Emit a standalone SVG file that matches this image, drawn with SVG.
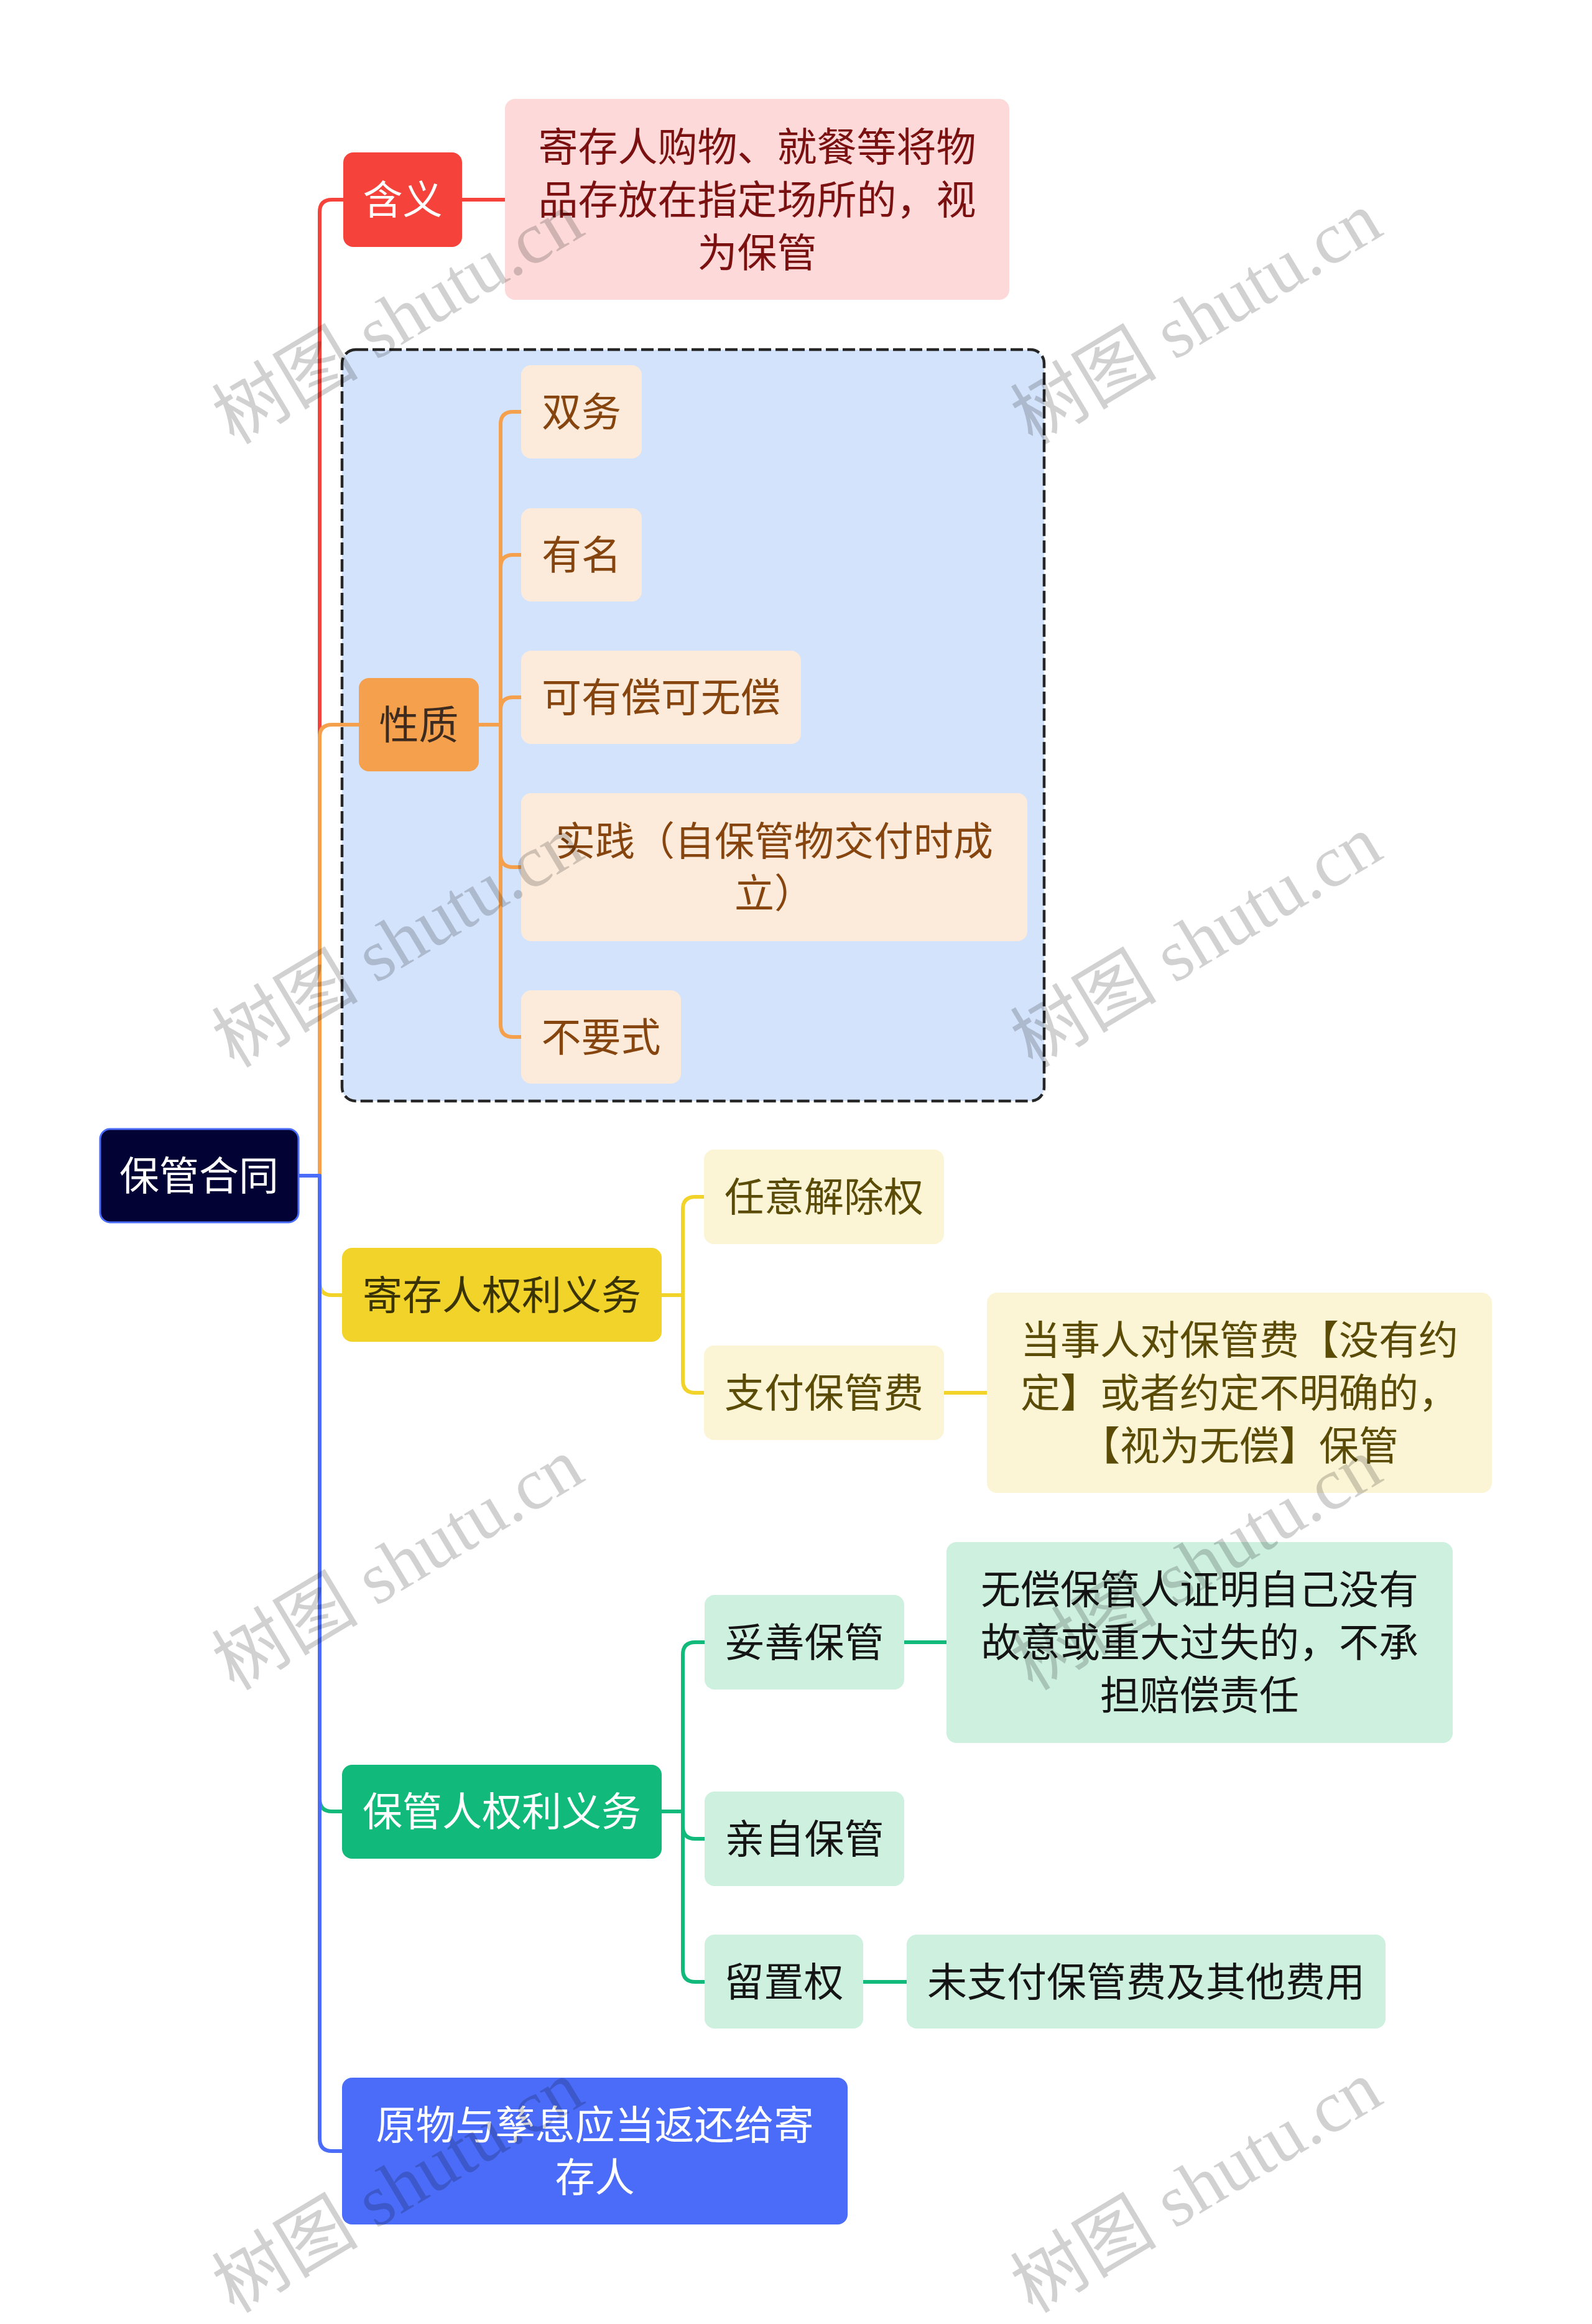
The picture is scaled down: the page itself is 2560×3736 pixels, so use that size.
<svg xmlns="http://www.w3.org/2000/svg" width="2560" height="3736" viewBox="0 0 2560 3736">
<style>
text{font-family:"Noto Sans CJK SC","Noto Sans",sans-serif;font-size:64px;text-anchor:middle;dominant-baseline:central}
.c{fill:none;stroke-width:6;stroke-linecap:round;stroke-linejoin:round}
.wm{font-family:"Liberation Serif","Noto Sans CJK SC",serif;font-size:118px;fill:#000;fill-opacity:0.18;text-anchor:middle;dominant-baseline:central}
</style>
<rect x="0" y="0" width="2560" height="3736" fill="#ffffff"/>
<g id="group-frame">
<rect x="550" y="562" width="1129" height="1208" rx="22" fill="#d4e3fc" stroke="#262626" stroke-width="4.5" stroke-dasharray="20 7"/>
</g>
<g id="connectors">
<path class="c" stroke="#f5433b" d="M480 1890H514V341Q514 321 534 321H552"/>
<path class="c" stroke="#f4a04c" d="M480 1890H514V1185Q514 1165 534 1165H577"/>
<path class="c" stroke="#f1d32a" d="M480 1890H514V2062Q514 2082 534 2082H550"/>
<path class="c" stroke="#11b97a" d="M480 1890H514V2892Q514 2912 534 2912H550"/>
<path class="c" stroke="#4a6cf8" d="M480 1890H514V3438Q514 3458 534 3458H550"/>
<path class="c" stroke="#f5433b" d="M743 321H812"/>
<path class="c" stroke="#f4a04c" d="M770 1165H805V682Q805 662 825 662H838"/>
<path class="c" stroke="#f4a04c" d="M770 1165H805V912Q805 892 825 892H838"/>
<path class="c" stroke="#f4a04c" d="M770 1165H805V1141Q805 1121 825 1121H838"/>
<path class="c" stroke="#f4a04c" d="M770 1165H805V1374Q805 1394 825 1394H838"/>
<path class="c" stroke="#f4a04c" d="M770 1165H805V1647Q805 1667 825 1667H838"/>
<path class="c" stroke="#f1d32a" d="M1064 2082H1098V1944Q1098 1924 1118 1924H1132"/>
<path class="c" stroke="#f1d32a" d="M1064 2082H1098V2219Q1098 2239 1118 2239H1132"/>
<path class="c" stroke="#f1d32a" d="M1518 2239H1587"/>
<path class="c" stroke="#11b97a" d="M1064 2912H1098V2660Q1098 2640 1118 2640H1133"/>
<path class="c" stroke="#11b97a" d="M1064 2912H1098V2936Q1098 2956 1118 2956H1133"/>
<path class="c" stroke="#11b97a" d="M1064 2912H1098V3166Q1098 3186 1118 3186H1133"/>
<path class="c" stroke="#11b97a" d="M1454 2640H1522"/>
<path class="c" stroke="#11b97a" d="M1388 3186H1458"/>
</g>
<g id="root">
<rect x="161" y="1815" width="319" height="150" rx="16" fill="#020235" stroke="#4a6cf8" stroke-width="3"/>
<text x="320" y="1885" fill="#ffffff">保管合同</text>
</g>
<g id="n-hanyi">
<rect x="552" y="245" width="191" height="152" rx="16" fill="#f5433b"/>
<text x="647.5" y="316" fill="#ffffff">含义</text>
</g>
<g id="n-hanyi-desc">
<rect x="812" y="159" width="811" height="323" rx="16" fill="#fdd9d9"/>
<text x="1217.5" y="231" fill="#7a1010">寄存人购物、就餐等将物</text>
<text x="1217.5" y="316" fill="#7a1010">品存放在指定场所的，视</text>
<text x="1217.5" y="401" fill="#7a1010">为保管</text>
</g>
<g id="n-xingzhi">
<rect x="577" y="1090" width="193" height="150" rx="16" fill="#f4a04c"/>
<text x="673.5" y="1160" fill="#3d2b1f">性质</text>
</g>
<g id="n-shuangwu">
<rect x="838" y="587" width="194" height="150" rx="16" fill="#fcebdb"/>
<text x="935" y="657" fill="#86450f">双务</text>
</g>
<g id="n-youming">
<rect x="838" y="817" width="194" height="150" rx="16" fill="#fcebdb"/>
<text x="935" y="887" fill="#86450f">有名</text>
</g>
<g id="n-youchang">
<rect x="838" y="1046" width="450" height="150" rx="16" fill="#fcebdb"/>
<text x="1063" y="1116" fill="#86450f">可有偿可无偿</text>
</g>
<g id="n-shijian">
<rect x="838" y="1275" width="814" height="238" rx="16" fill="#fcebdb"/>
<text x="1245" y="1347" fill="#86450f">实践（自保管物交付时成</text>
<text x="1245" y="1431" fill="#86450f">立）</text>
</g>
<g id="n-buyaoshi">
<rect x="838" y="1592" width="257" height="150" rx="16" fill="#fcebdb"/>
<text x="966.5" y="1662" fill="#86450f">不要式</text>
</g>
<g id="n-jicunren">
<rect x="550" y="2006" width="514" height="151" rx="16" fill="#f1d32a"/>
<text x="807" y="2077" fill="#3a3306">寄存人权利义务</text>
</g>
<g id="n-renyi">
<rect x="1132" y="1848" width="386" height="152" rx="16" fill="#fcf5d5"/>
<text x="1325" y="1919" fill="#5a4b06">任意解除权</text>
</g>
<g id="n-zhifu">
<rect x="1132" y="2163" width="386" height="152" rx="16" fill="#fcf5d5"/>
<text x="1325" y="2234" fill="#5a4b06">支付保管费</text>
</g>
<g id="n-zhifu-desc">
<rect x="1587" y="2078" width="812" height="322" rx="16" fill="#fcf5d5"/>
<text x="1993" y="2149" fill="#5a4b06">当事人对保管费【没有约</text>
<text x="1993" y="2234" fill="#5a4b06">定】或者约定不明确的，</text>
<text x="1993" y="2319" fill="#5a4b06">【视为无偿】保管</text>
</g>
<g id="n-baoguanren">
<rect x="550" y="2837" width="514" height="151" rx="16" fill="#11b97a"/>
<text x="807" y="2907" fill="#ffffff">保管人权利义务</text>
</g>
<g id="n-tuoshan">
<rect x="1133" y="2564" width="321" height="152" rx="16" fill="#cdf0df"/>
<text x="1293.5" y="2635" fill="#151515">妥善保管</text>
</g>
<g id="n-tuoshan-desc">
<rect x="1522" y="2479" width="814" height="323" rx="16" fill="#cdf0df"/>
<text x="1929" y="2550" fill="#151515">无偿保管人证明自己没有</text>
<text x="1929" y="2635" fill="#151515">故意或重大过失的，不承</text>
<text x="1929" y="2720" fill="#151515">担赔偿责任</text>
</g>
<g id="n-qinzi">
<rect x="1133" y="2880" width="321" height="152" rx="16" fill="#cdf0df"/>
<text x="1293.5" y="2951" fill="#151515">亲自保管</text>
</g>
<g id="n-liuzhi">
<rect x="1133" y="3110" width="255" height="151" rx="16" fill="#cdf0df"/>
<text x="1260.5" y="3181" fill="#151515">留置权</text>
</g>
<g id="n-liuzhi-desc">
<rect x="1458" y="3110" width="770" height="151" rx="16" fill="#cdf0df"/>
<text x="1843" y="3181" fill="#151515">未支付保管费及其他费用</text>
</g>
<g id="n-yuanwu">
<rect x="550" y="3340" width="813" height="236" rx="16" fill="#4a6cf8"/>
<text x="956.5" y="3411" fill="#ffffff">原物与孳息应当返还给寄</text>
<text x="956.5" y="3495" fill="#ffffff">存人</text>
</g>
<g id="watermarks">
<text class="wm" transform="translate(640 512) rotate(-31)">树图 shutu.cn</text>
<text class="wm" transform="translate(1924 512) rotate(-31)">树图 shutu.cn</text>
<text class="wm" transform="translate(640 1514) rotate(-31)">树图 shutu.cn</text>
<text class="wm" transform="translate(1924 1514) rotate(-31)">树图 shutu.cn</text>
<text class="wm" transform="translate(640 2515) rotate(-31)">树图 shutu.cn</text>
<text class="wm" transform="translate(1924 2515) rotate(-31)">树图 shutu.cn</text>
<text class="wm" transform="translate(640 3516) rotate(-31)">树图 shutu.cn</text>
<text class="wm" transform="translate(1924 3516) rotate(-31)">树图 shutu.cn</text>
</g>
</svg>
